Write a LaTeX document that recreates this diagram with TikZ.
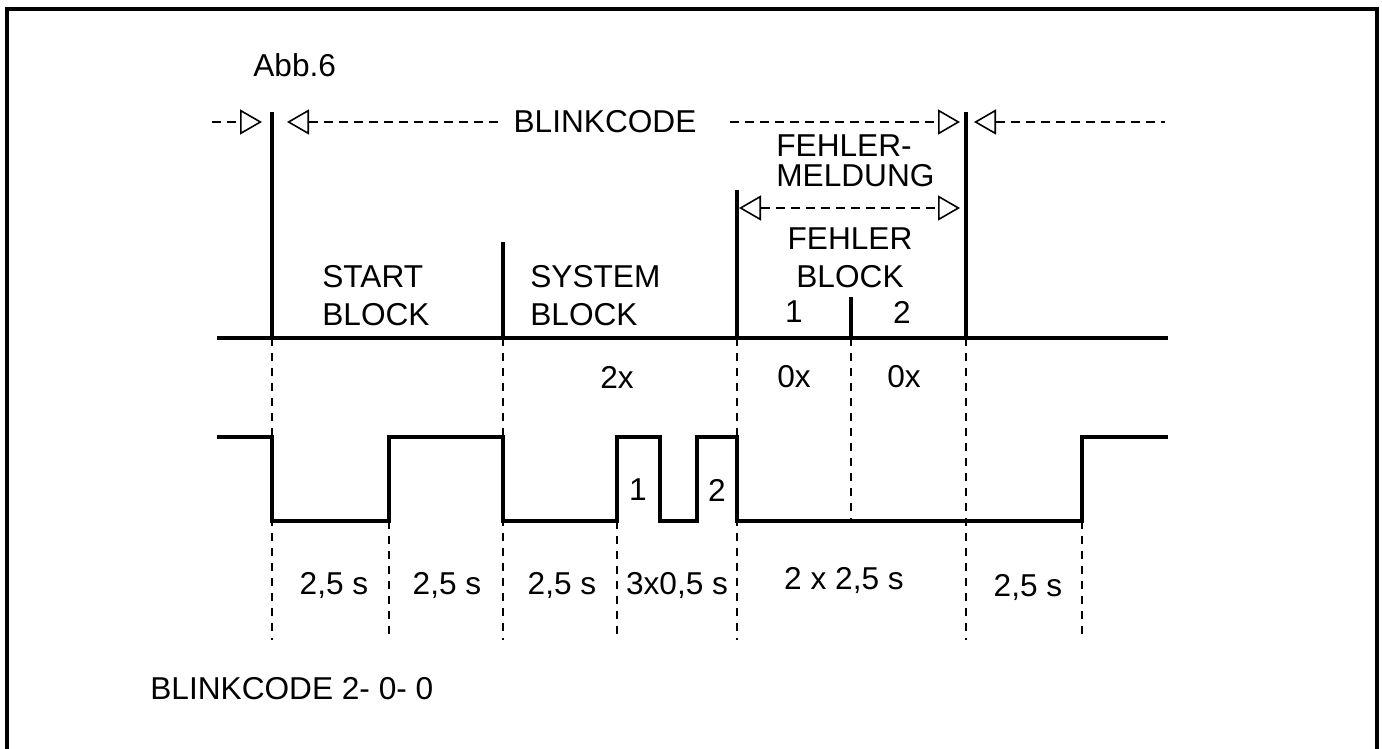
\documentclass[tikz,border=0pt]{standalone}
\usepackage{fontspec}
\setmainfont{Liberation Sans}
\usetikzlibrary{arrows.meta, positioning}

\begin{document}
\begin{tikzpicture}[x=0.02cm, y=-0.02cm,
  every node/.style={font=\fontsize{18}{21.5}\selectfont, inner sep=0pt},
  >={Triangle[open, length=0.44cm, width=0.5cm]},
  balken/.style={line width=2.5pt},
  signal/.style={line width=2.8pt},
  hilfslinie/.style={line width=0.9pt, dash pattern=on 0.16cm off 0.14cm},
  pfeil/.style={line width=0.9pt, dash pattern=on 0.18cm off 0.12cm}]
  \useasboundingbox (0,0) rectangle (1382,749);

  % Rahmen
  \draw[line width=2.3pt] (7,749) -- (7,9) -- (1377,9) -- (1377,749);

  % Zeitachse mit Blockgrenzen
  \draw[balken] (217,338) -- (1168,338);
  \draw[balken] (272,112) -- (272,338);
  \draw[balken] (503,242) -- (503,338);
  \draw[balken] (737,190) -- (737,338);
  \draw[balken] (851,297) -- (851,338);
  \draw[balken] (966,112) -- (966,338);

  % Hilfslinien
  \foreach \x in {272,503,737,966}
    \draw[hilfslinie] (\x,338) -- (\x,640);
  \draw[hilfslinie] (851,338) -- (851,521);
  \foreach \x in {389,617,1082}
    \draw[hilfslinie] (\x,521) -- (\x,640);

  % Blinksignal
  \draw[signal] (217,437) -| (272,521) -| (389,437) -| (503,521) -| (617,437)
    -| (660,521) -| (697,437) -| (737,521) -| (1082,437) -- (1168,437);

  % Pfeile oben
  \draw[pfeil, ->] (212,122) -- (262,122);
  \draw[pfeil, <-] (287,122) -- (503,122);
  \node (blink) at (605,122) {BLINKCODE};
  \draw[pfeil, ->] (730,122) -- (960,122);
  \draw[pfeil, <-] (974,122) -- (1165,122);
  \draw[pfeil, <->] (739,208) -- (960,208);

  % Beschriftung
  \node (abb) [anchor=base west] at (253,77) {Abb.6};
  \node (start) [anchor=west, align=left] at (322,296) {START\\BLOCK};
  \node (system) [anchor=west, align=left] at (530,296) {SYSTEM\\BLOCK};
  \node (meldung) [anchor=west, align=left, font=\fontsize{18}{17}\selectfont] at (776,161) {FEHLER-\\MELDUNG};
  \node (fblock) [align=center] at (850,258) {FEHLER\\BLOCK};
  \node (f1) at (794,312) {1};
  \node (f2) at (902,312) {2};

  \node (n2x) at (617,377) {2x};
  \node (n0x1) at (794,377) {0x};
  \node (n0x2) at (904,377) {0x};

  \node (p1) at (638,490) {1};
  \node (p2) at (717,490) {2};

  \node (z1) at (334,585) {2,5 s};
  \node (z2) at (447,585) {2,5 s};
  \node (z3) at (562,585) {2,5 s};
  \node (z4) at (677,585) {3x0,5 s};
  \node (z5) at (844,580) {2 x 2,5 s};
  \node (z6) at (1028,587) {2,5 s};

  \node (code) [anchor=west] at (150,689) {BLINKCODE 2- 0- 0};
\end{tikzpicture}
\end{document}
